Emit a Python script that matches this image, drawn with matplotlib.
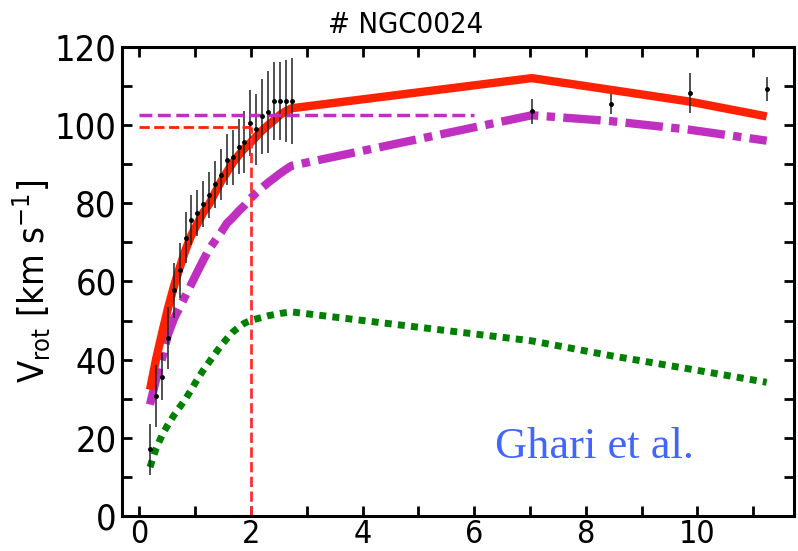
import matplotlib
matplotlib.use("Agg")
from matplotlib import pyplot as plt
from matplotlib.ticker import MultipleLocator

plt.rcParams['font.family'] = ['DejaVu Sans']
plt.rcParams['font.stretch'] = 'condensed'

# radii [kpc]
radius = [0.19, 0.30, 0.41, 0.51, 0.62, 0.72, 0.83, 0.93, 1.04, 1.14,
          1.25, 1.36, 1.46, 1.57, 1.67, 1.78, 1.88, 1.99, 2.09, 2.20,
          2.30, 2.41, 2.52, 2.62, 2.73, 7.03, 8.45, 9.86, 11.24]
# observed rotation velocity and errors
v_obs = [17.1, 30.7, 35.6, 45.5, 57.7, 62.8, 71.2, 75.7, 77.5, 79.8,
         82.1, 84.9, 87.3, 91.1, 91.7, 94.5, 95.7, 100.5, 98.9, 102.2,
         103.3, 106.2, 106.2, 106.2, 106.2, 103.5, 105.3, 108.2, 109.2]
v_err = [6.5, 8, 6, 8, 7, 7, 6.5, 6.5, 6, 6,
         6, 6, 6.5, 6.5, 7, 7, 8, 8.5, 9, 9.5,
         10.5, 10, 10, 10.5, 11, 3.2, 2.6, 5, 3]
# model curves
v_total = [32.3, 40.2, 47.0, 53.0, 58.8, 63.4, 68.2, 71.8, 74.8, 77.5,
           79.8, 82.8, 85.5, 88.0, 90.3, 92.3, 94.0, 95.5, 97.0, 98.6,
           99.9, 101.2, 102.6, 103.5, 104.3, 112.0, 109.0, 106.0, 102.2]
v_model2 = [28.5, 35.0, 40.5, 46.3, 50.5, 53.3, 56.5, 59.3, 62.5, 65.3,
            68.3, 70.5, 72.5, 74.9, 76.3, 78.0, 79.4, 81.2, 82.6, 84.0,
            85.2, 86.4, 87.6, 88.6, 89.6, 102.5, 101.0, 98.8, 96.0]
v_baryon = [12.5, 17.3, 20.8, 23.3, 25.8, 27.8, 30.0, 32.3, 35.0, 37.2,
            39.4, 41.6, 43.5, 45.4, 47.0, 48.3, 49.3, 50.0, 50.4, 50.8,
            51.2, 51.5, 51.8, 52.0, 52.2, 44.8, 41.0, 37.6, 34.2]

r_half = 2.0
v_half = 99.5
v_flat = 102.5
r_flat_end = 6.0

fig = plt.figure(figsize=(7.98, 5.51), dpi=100)
ax = fig.add_axes([0.153, 0.0635, 0.842, 0.8515])

ax.plot(radius, v_baryon, color='green', lw=5, linestyle=(0, (1, 0.9)))
ax.plot(radius, v_model2, color='#c030c0', lw=6, linestyle=(0, (4.5, 1, 1, 1)))
ax.plot(radius, v_total, color='#ff2200', lw=6, solid_capstyle='butt')
ax.errorbar(radius, v_obs, yerr=v_err, fmt='o', color='black', ms=2.5,
            ecolor='#222222', elinewidth=1.1, capsize=0)

ax.plot([0, r_flat_end], [v_flat, v_flat], color='#c030c0', lw=2.5, linestyle='--')
ax.plot([0, r_half], [v_half, v_half], color='#ff2200', lw=2, linestyle='--')
ax.plot([r_half, r_half], [0, v_half], color='#ff3030', lw=2, linestyle='--')

ax.text(6.37, 14.8, 'Ghari et al.', family='Liberation Serif', fontsize=32,
        color='#3f66ff', va='baseline', ha='left', stretch='normal')

ax.set_xlim(-0.31, 11.73)
ax.set_ylim(0, 120)
ax.xaxis.set_major_locator(MultipleLocator(2))
ax.xaxis.set_minor_locator(MultipleLocator(1))
ax.yaxis.set_major_locator(MultipleLocator(20))
ax.yaxis.set_minor_locator(MultipleLocator(10))
ax.tick_params(which='both', direction='in', top=True, right=True,
               length=7, width=2, labelsize=26, pad=4)
ax.tick_params(axis='x', labelsize=23, pad=2)
for sp in ax.spines.values():
    sp.set_linewidth(2.2)

ax.set_ylabel(r'V$_{\rm rot}$ [km s$^{-1}$]', fontsize=26)
ax.yaxis.set_label_coords(-0.105, 0.5)

fig.text(0.508, 1 - 33 / 551, '# NGC0024', ha='center', va='baseline', fontsize=21)

plt.savefig('out.png', dpi=100)
plt.close()
